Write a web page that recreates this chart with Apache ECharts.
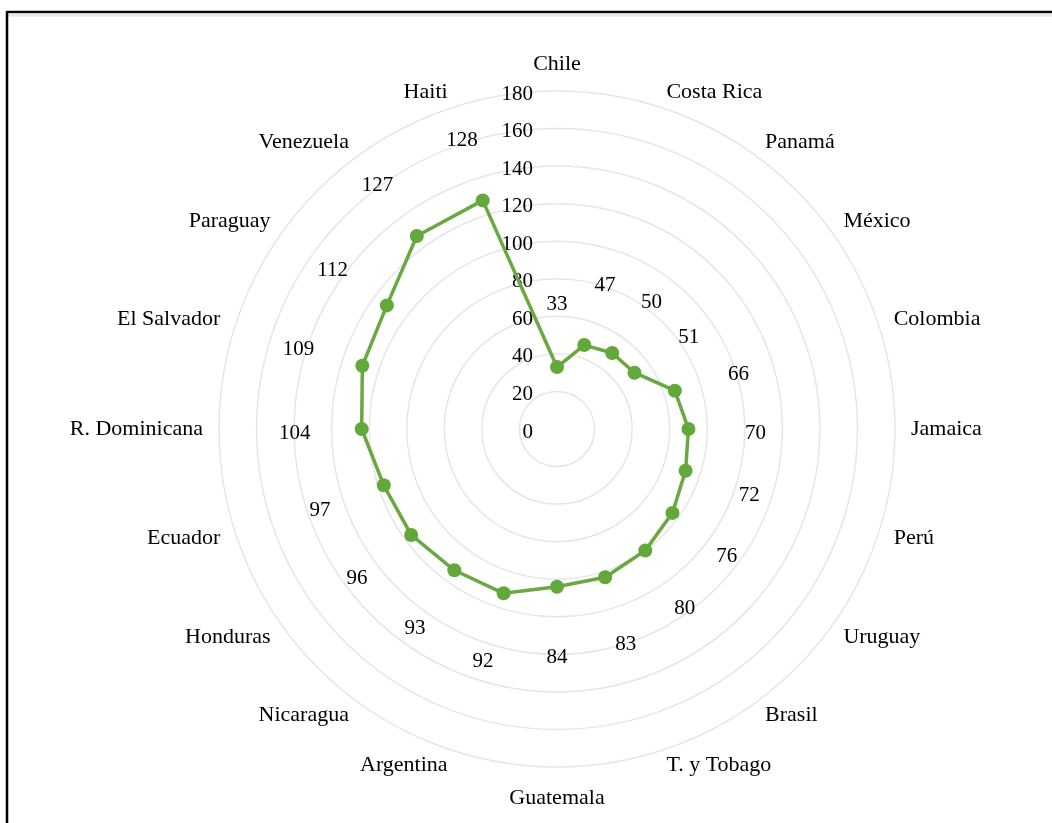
<!DOCTYPE html>
<html>
<head>
<meta charset="utf-8">
<script src="https://cdn.jsdelivr.net/npm/echarts@6/dist/echarts.min.js"></script>
<style>
  html, body { margin: 0; padding: 0; background: #fff; }
  #chart { width: 1052px; height: 823px; }
</style>
</head>
<body>
<div id="chart"></div>
<script>
// Countries in clockwise order starting at the top
var categories = ['Chile', 'Costa Rica', 'Panamá', 'México', 'Colombia', 'Jamaica', 'Perú',
  'Uruguay', 'Brasil', 'T. y Tobago', 'Guatemala', 'Argentina', 'Nicaragua', 'Honduras',
  'Ecuador', 'R. Dominicana', 'El Salvador', 'Paraguay', 'Venezuela', 'Haiti'];
var values = [33, 47, 50, 51, 66, 70, 72, 76, 80, 83, 84, 92, 93, 96, 97, 104, 109, 112, 127, 128];
var axisMin = 0, axisMax = 180, axisStep = 20;

var CX = 557, CY = 429, R = 338;
var FONT = 'Liberation Serif';

// ECharts radar runs counter-clockwise, so feed it Chile first, then the rest reversed
var order = [0];
for (var i = categories.length - 1; i >= 1; i--) order.push(i);

var indicators = order.map(function (idx, k) {
  var ind = { name: categories[idx], min: axisMin, max: axisMax };
  if (k === 0) {
    ind.axisLabel = {
      show: true, color: '#000', fontFamily: FONT, fontSize: 21,
      margin: 24, showMinLabel: true, showMaxLabel: true,
      formatter: '{v|{value}}',
      rich: { v: { color: '#000', fontFamily: FONT, fontSize: 21, padding: [6, 0, 0, 0] } }
    };
  }
  return ind;
});
var radarValues = order.map(function (idx) { return values[idx]; });

var chart = echarts.init(document.getElementById('chart'));
chart.setOption({
  backgroundColor: '#ffffff',
  animation: false,
  radar: {
    center: [CX, CY],
    radius: R,
    startAngle: 90,
    shape: 'circle',
    splitNumber: (axisMax - axisMin) / axisStep,
    indicator: indicators,
    nameGap: 16,
    axisName: { color: '#000', fontFamily: FONT, fontSize: 22, padding: [4, 0, 0, 0] },
    axisLine: { show: false },
    axisTick: { show: false },
    axisLabel: { show: false },
    splitArea: { show: false },
    splitLine: { lineStyle: { color: '#e6e6e6', width: 1.5 } }
  },
  series: [{
    type: 'radar',
    symbol: 'circle',
    symbolSize: 14,
    lineStyle: { color: '#6aa842', width: 3.5 },
    itemStyle: { color: '#62a83a' },
    label: { show: true, color: '#000', fontFamily: FONT, fontSize: 21 },
    labelLayout: function (p) {
      // push each value label outward along its spoke
      var sx = p.rect.x + p.rect.width / 2;
      var sy = p.rect.y + p.rect.height / 2;
      var dx = sx - CX, dy = sy - CY;
      var d = Math.sqrt(dx * dx + dy * dy) || 1;
      var r = d + 67;
      return { x: CX + dx / d * r, y: CY + dy / d * r + 4, align: 'center', verticalAlign: 'middle' };
    },
    data: [{ value: radarValues }]
  }],
  graphic: [
    { type: 'line', shape: { x1: 7, y1: 12, x2: 1052, y2: 12 }, style: { stroke: '#000', lineWidth: 2.5 } },
    { type: 'line', shape: { x1: 8, y1: 15, x2: 1052, y2: 15 }, style: { stroke: '#e6e6e6', lineWidth: 3 } },
    { type: 'line', shape: { x1: 7, y1: 11, x2: 7, y2: 823 }, style: { stroke: '#000', lineWidth: 2.5 } }
  ]
});
</script>
</body>
</html>
